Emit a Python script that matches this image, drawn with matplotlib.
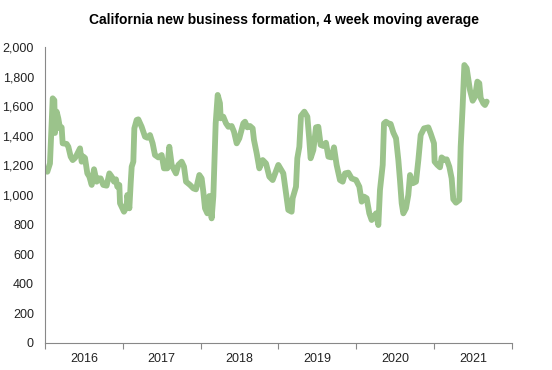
import numpy as np
import matplotlib.pyplot as plt

plt.rcParams['font.family'] = ['Liberation Sans', 'DejaVu Sans']

# weekly series (decimal year, count)
t = [2016.030, 2016.064, 2016.099, 2016.120, 2016.128, 2016.150, 2016.171, 2016.193,
     2016.214, 2016.227, 2016.278, 2016.300, 2016.330, 2016.356, 2016.385, 2016.407,
     2016.450, 2016.471, 2016.492, 2016.514, 2016.544, 2016.570, 2016.600, 2016.630,
     2016.664, 2016.685, 2016.715, 2016.749, 2016.792, 2016.827, 2016.857, 2016.887,
     2016.912, 2016.929, 2016.955, 2016.964, 2017.015, 2017.049, 2017.058, 2017.084,
     2017.101, 2017.114, 2017.135, 2017.148, 2017.178, 2017.199, 2017.242, 2017.285,
     2017.315, 2017.349, 2017.383, 2017.413, 2017.456, 2017.499, 2017.529, 2017.572,
     2017.597, 2017.628, 2017.649, 2017.683, 2017.713, 2017.756, 2017.786, 2017.812,
     2017.863, 2017.906, 2017.940, 2017.983, 2018.013, 2018.034, 2018.056, 2018.086,
     2018.111, 2018.141, 2018.163, 2018.193, 2018.219, 2018.248, 2018.257, 2018.291,
     2018.326, 2018.356, 2018.398, 2018.428, 2018.463, 2018.497, 2018.548, 2018.570,
     2018.600, 2018.634, 2018.668, 2018.685, 2018.720, 2018.754, 2018.797, 2018.840,
     2018.882, 2018.925, 2018.998, 2019.062, 2019.097, 2019.126, 2019.169, 2019.182,
     2019.225, 2019.242, 2019.268, 2019.289, 2019.332, 2019.371, 2019.396, 2019.413,
     2019.448, 2019.482, 2019.512, 2019.542, 2019.576, 2019.610, 2019.641, 2019.683,
     2019.713, 2019.747, 2019.790, 2019.825, 2019.855, 2019.897, 2019.940, 2019.996,
     2020.039, 2020.069, 2020.099, 2020.133, 2020.167, 2020.197, 2020.227, 2020.253,
     2020.283, 2020.304, 2020.339, 2020.356, 2020.381, 2020.411, 2020.441, 2020.476,
     2020.510, 2020.540, 2020.561, 2020.583, 2020.604, 2020.638, 2020.668, 2020.690,
     2020.724, 2020.767, 2020.797, 2020.827, 2020.870, 2020.925, 2020.955, 2020.998,
     2021.006, 2021.041, 2021.075, 2021.096, 2021.139, 2021.161, 2021.195, 2021.225,
     2021.246, 2021.280, 2021.323, 2021.341, 2021.366, 2021.388, 2021.418, 2021.460,
     2021.495, 2021.525, 2021.555, 2021.580, 2021.598, 2021.632, 2021.653, 2021.675]
formation = [1157, 1213, 1653, 1640, 1419, 1563, 1518, 1450,
             1457, 1349, 1345, 1326, 1259, 1236, 1250, 1270,
             1315, 1225, 1260, 1250, 1146, 1124, 1068, 1174,
             1090, 1112, 1112, 1068, 1063, 1146, 1124, 1090,
             1106, 1056, 1068, 944, 887, 921, 1000, 910,
             1079, 1191, 1225, 1450, 1507, 1511, 1461, 1394,
             1387, 1405, 1349, 1270, 1254, 1270, 1180, 1180,
             1326, 1203, 1180, 1146, 1203, 1225, 1191, 1090,
             1068, 1045, 1038, 1135, 1112, 1023, 910, 876,
             993, 842, 991, 1484, 1676, 1620, 1518, 1529,
             1484, 1461, 1466, 1428, 1349, 1383, 1484, 1495,
             1457, 1466, 1450, 1372, 1282, 1180, 1236, 1213,
             1124, 1101, 1203, 1146, 1011, 899, 887, 978,
             1056, 1248, 1326, 1534, 1563, 1529, 1372, 1248,
             1304, 1457, 1461, 1338, 1331, 1353, 1259, 1254,
             1322, 1203, 1101, 1090, 1146, 1151, 1112, 1101,
             1056, 955, 989, 978, 876, 831, 854, 876,
             797, 1034, 1203, 1484, 1495, 1484, 1480, 1421,
             1383, 1236, 1101, 944, 876, 910, 1000, 1135,
             1079, 1090, 1236, 1405, 1450, 1457, 1416, 1349,
             1225, 1203, 1187, 1254, 1236, 1241, 1191, 1112,
             971, 948, 966, 1326, 1597, 1878, 1856, 1709,
             1637, 1664, 1766, 1755, 1655, 1619, 1608, 1631]
years = [2016, 2017, 2018, 2019, 2020, 2021]

fig = plt.figure(figsize=(5.52, 3.70), dpi=100)
ax = fig.add_axes([0.0815, 0.073, 0.846, 0.80])

ax.plot(t, formation, color='#9bc38b', linewidth=4.2,
        solid_joinstyle='round', solid_capstyle='round')

ax.set_xlim(2016, 2022)
ax.set_ylim(0, 2000)
ax.set_yticks(np.arange(0, 2001, 200))
ax.set_yticklabels([f'{v:,}' for v in range(0, 2001, 200)], fontsize=9, color='#222222')
ax.tick_params(axis='y', length=0, pad=8)

# year boundaries as major ticks, labels centred in between
ax.set_xticks(np.arange(2016, 2023))
ax.set_xticklabels([])
ax.set_xticks([y + 0.5 for y in years], minor=True)
ax.set_xticklabels([str(y) for y in years], minor=True, fontsize=9, color='#222222')
ax.tick_params(axis='x', which='major', length=4, color='#888888', direction='out')
ax.tick_params(axis='x', which='minor', length=0, pad=7)

for s in ['top', 'right']:
    ax.spines[s].set_visible(False)
for s in ['left', 'bottom']:
    ax.spines[s].set_color('#888888')
    ax.spines[s].set_linewidth(0.8)

fig.suptitle('California new business formation, 4 week moving average',
             x=0.515, y=0.965, fontsize=10, fontweight='bold')

fig.savefig('out.png', dpi=100)
